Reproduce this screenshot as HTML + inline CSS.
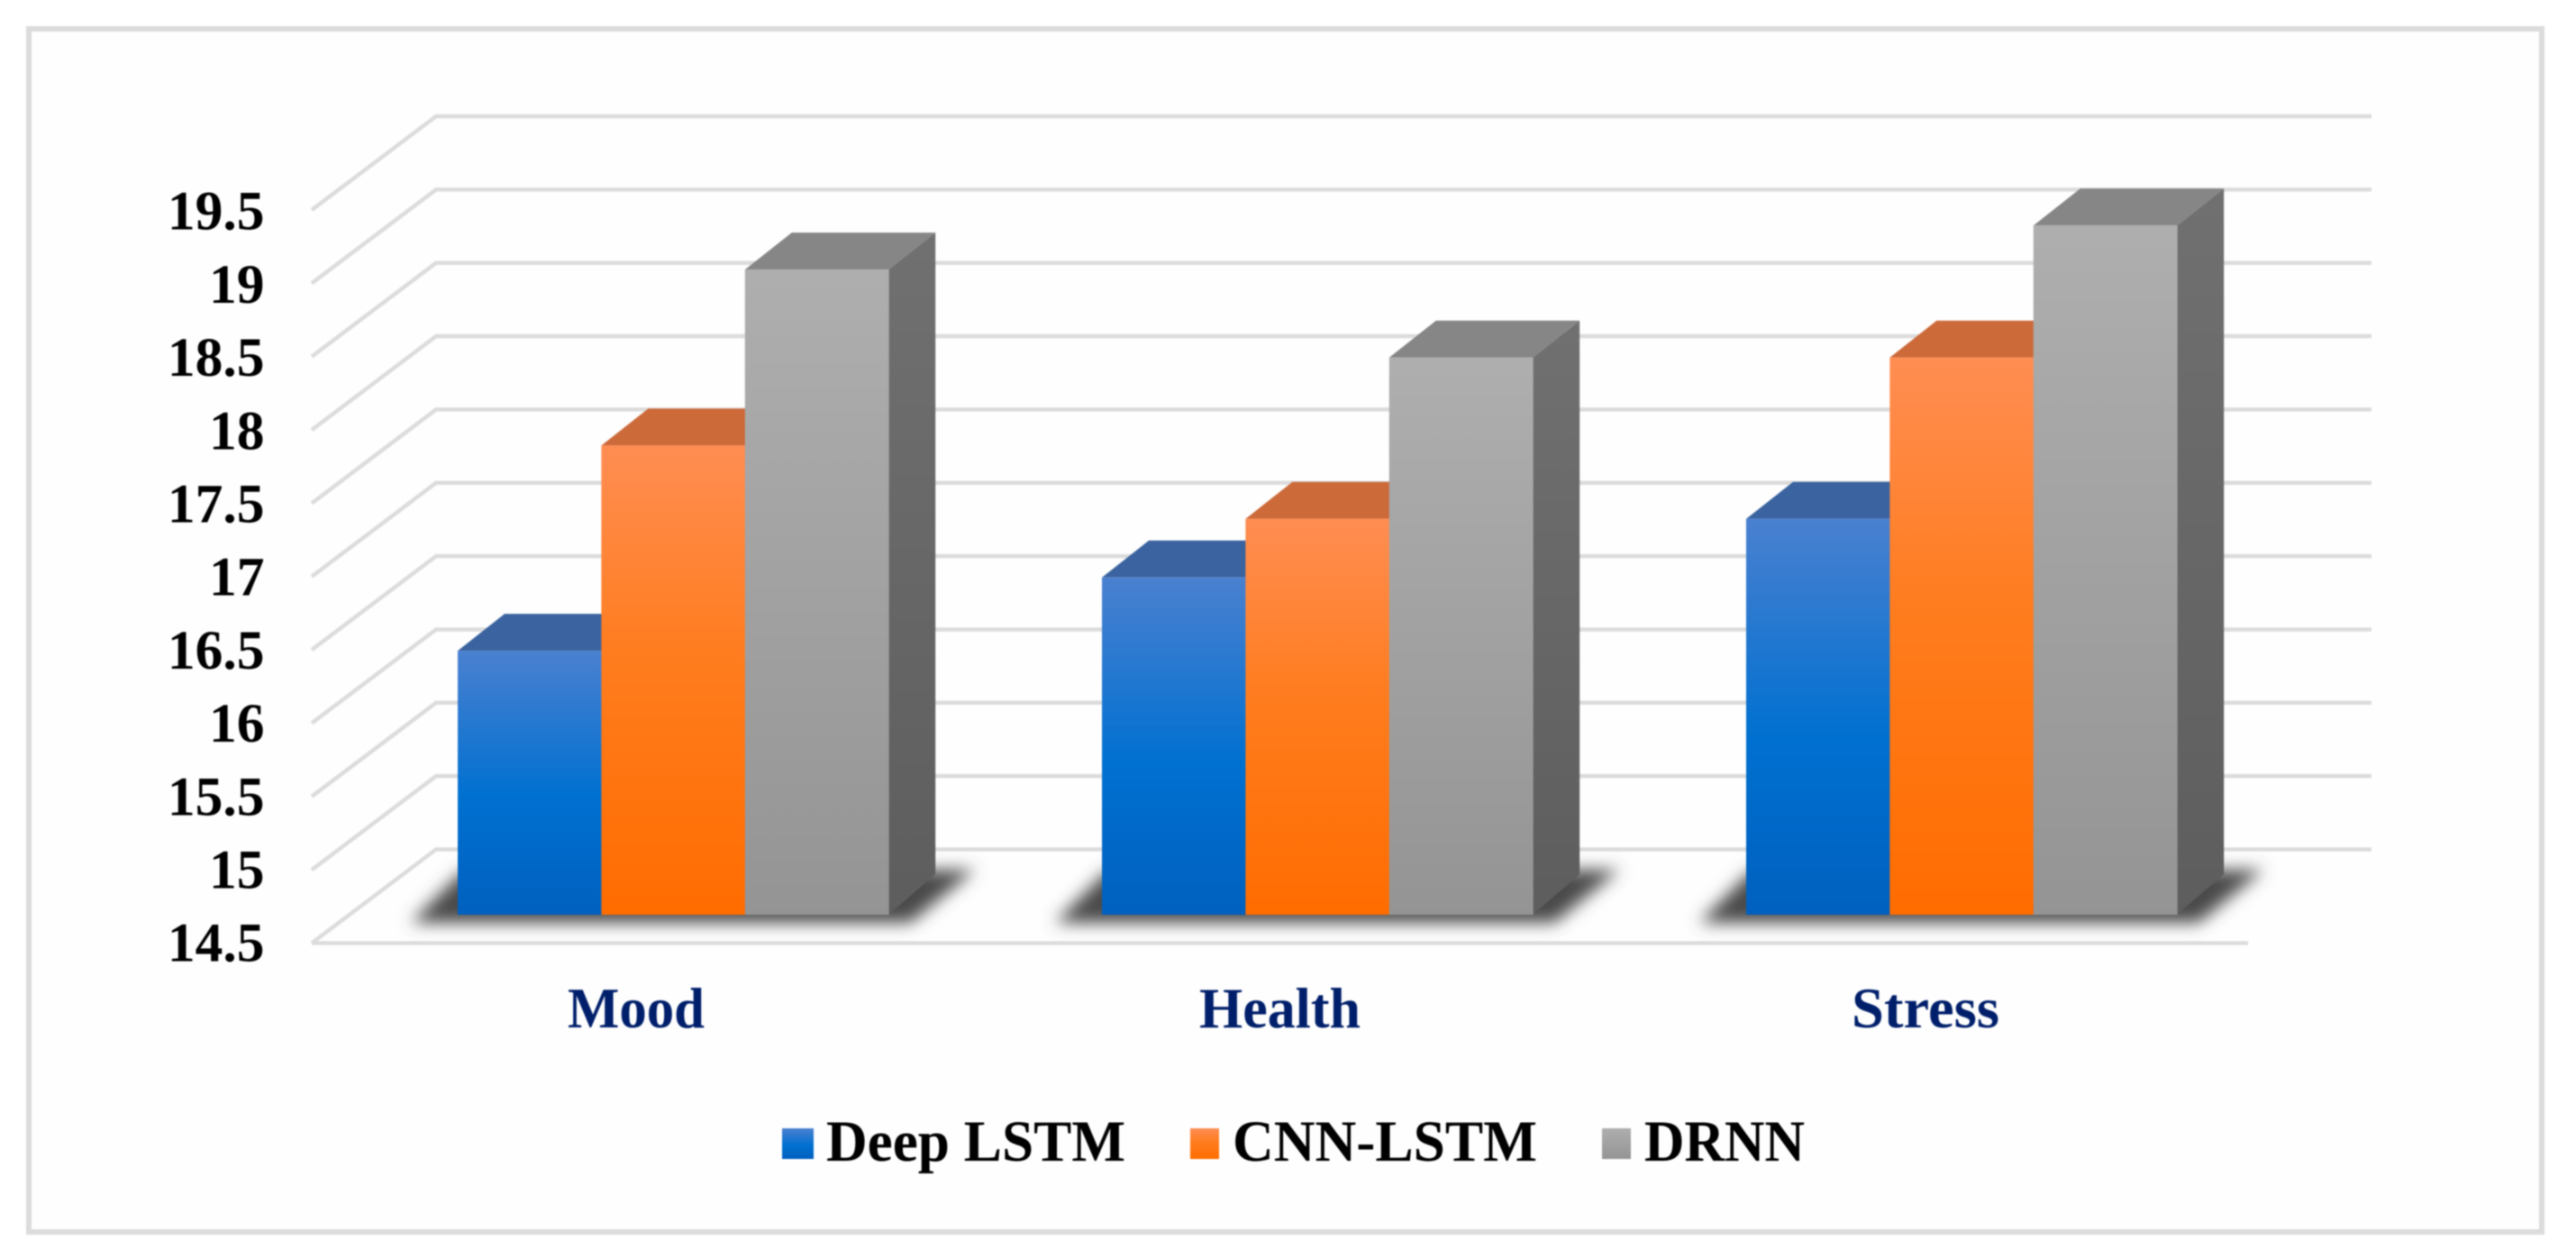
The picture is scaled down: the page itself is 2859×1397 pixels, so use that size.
<!DOCTYPE html>
<html lang="en">
<head>
<meta charset="utf-8">
<title>Deep LSTM, CNN-LSTM and DRNN comparison</title>
<style>
html,body{margin:0;padding:0;background:#fff;width:2859px;height:1397px;overflow:hidden}
svg{display:block;filter:blur(0.7px)}
text{font-family:"Liberation Serif","Times New Roman",serif;font-weight:bold}
</style>
</head>
<body>
<svg id="chart" xmlns="http://www.w3.org/2000/svg" width="2859" height="1397" viewBox="0 0 2859 1397">
<defs>
<linearGradient id="g0" x1="0" y1="0" x2="0" y2="1"><stop offset="0" stop-color="#4a80d0"/><stop offset="0.55" stop-color="#0070d0"/><stop offset="1" stop-color="#0060bf"/></linearGradient>
<linearGradient id="g1" x1="0" y1="0" x2="0" y2="1"><stop offset="0" stop-color="#ff8d52"/><stop offset="0.45" stop-color="#ff7c1e"/><stop offset="1" stop-color="#ff6c00"/></linearGradient>
<linearGradient id="g2" x1="0" y1="0" x2="0" y2="1"><stop offset="0" stop-color="#aeaeae"/><stop offset="1" stop-color="#949494"/></linearGradient>
<linearGradient id="side" x1="0" y1="0" x2="0" y2="1"><stop offset="0" stop-color="#707070"/><stop offset="1" stop-color="#5d5d5d"/></linearGradient>
<filter id="blur" x="-20%" y="-60%" width="140%" height="220%"><feGaussianBlur stdDeviation="9"/></filter>
</defs>
<rect x="32" y="32" width="2789" height="1335" fill="#fefefe" stroke="#dcdcdc" stroke-width="6"/>
</svg>
<script>
const categories = ["Mood", "Health", "Stress"];
const seriesNames = ["Deep LSTM", "CNN-LSTM", "DRNN"];
const deepLstm = [16.3, 16.8, 17.2];
const cnnLstm = [17.7, 17.2, 18.3];
const drnn = [18.9, 18.3, 19.2];
const tickLabels = ["14.5", "15", "15.5", "16", "16.5", "17", "17.5", "18", "18.5", "19", "19.5"];

const NS = "http://www.w3.org/2000/svg";
const svg = document.getElementById("chart");
const series = [deepLstm, cnnLstm, drnn];
const slug = s => s.toLowerCase().replace(/[^a-z0-9]+/g, "-");
const V0 = 14.5;
const gridY = v => 1046.5 - (v - V0) * 162.7;   // front edge of the wall/floor
const barY = v => 1015 - (v - V0) * 162.7;       // bar front plane
const labelY = v => 1066.7 - (v - V0) * 162.4;   // tick label baseline
const catX = i => 508 + i * 715;                 // left edge of a bar cluster
const BAR_W = 159.4, DX = 52, DY = 41, GDX = 138, GDY = 104;
const GRID_RIGHT = 2632, FLOOR_RIGHT = 2495, GRID_LEFT = 346;

function make(tag, attrs, text) {
  const el = document.createElementNS(NS, tag);
  for (const k in attrs) el.setAttribute(k, attrs[k]);
  if (text !== undefined) el.textContent = text;
  svg.appendChild(el);
  return el;
}

// gridlines
tickLabels.forEach(t => {
  const v = parseFloat(t);
  const y = gridY(v);
  const line = make("polyline", {
    points: `${GRID_LEFT},${y} ${GRID_LEFT + GDX},${y - GDY} ${GRID_RIGHT},${y - GDY}`,
    fill: "none", stroke: "#dcdcdc", "stroke-width": 4.5
  });
  
  
});
const floor = make("line", {
  x1: GRID_LEFT, y1: gridY(V0), x2: FLOOR_RIGHT, y2: gridY(V0),
  stroke: "#dcdcdc", "stroke-width": 4.5
});



// tick labels
tickLabels.forEach(t => {
  const label = make("text", {
    x: 293.5, y: labelY(parseFloat(t)), "text-anchor": "end", "font-size": 61.5, fill: "#000"
  }, t);
  
  
});

// shadows and bars
const categoryLabelX = [630, 1331, 2055];
const categoryLabelW = [152, 179, 164];
categories.forEach((cat, c) => {
  const x0 = catX(c), w = BAR_W * series.length, base = barY(V0);
  const shadow = make("polygon", {
    points: `${x0 - 52},${base + 9} ${x0 + 5},${base - 48} ${x0 + w + DX + 44},${base - 50} ${x0 + w + 24},${base + 9}`,
    fill: "#4a4a4a", filter: "url(#blur)"
  });
  
  

  series.forEach((vals, s) => {
    const x = x0 + s * BAR_W, y = barY(vals[c]);
    const topFill = ["#3a639f", "#cc6a3a", "#868686"][s];
    const id = slug(cat) + '-' + slug(seriesNames[s]);
    const side = make("polygon", {
      points: `${x + BAR_W},${y} ${x + BAR_W + DX},${y - DY} ${x + BAR_W + DX},${base - DY - 4} ${x + BAR_W},${base}`,
      fill: "url(#side)"
    });
    
    
    const top = make("polygon", {
      points: `${x},${y} ${x + DX},${y - DY} ${x + BAR_W + DX},${y - DY} ${x + BAR_W},${y}`,
      fill: topFill
    });
    
    
    const front = make("rect", {
      x: x, y: y, width: BAR_W + 0.5, height: base - y, fill: `url(#g${s})`
    });
    
    
  });

  const catLabel = make("text", {
    x: categoryLabelX[c], y: 1140, "font-size": 64, fill: "#001f6b",
    textLength: categoryLabelW[c], lengthAdjust: "spacingAndGlyphs"
  }, cat);
  
  
});

// legend
const legendSwatchX = [868, 1321, 1778];
const legendSwatchW = [35, 32, 32];
const legendTextX = [917, 1368, 1825];
const legendTextW = [332, 338, 178];
seriesNames.forEach((n, s) => {
  const sw = make("rect", {
    x: legendSwatchX[s], y: 1252, width: legendSwatchW[s], height: 34, fill: `url(#g${s})`
  });
  
  
  const tx = make("text", {
    x: legendTextX[s], y: 1288, "font-size": 65, fill: "#000",
    textLength: legendTextW[s], lengthAdjust: "spacingAndGlyphs"
  }, n);
  
  
});
</script>
</body>
</html>
